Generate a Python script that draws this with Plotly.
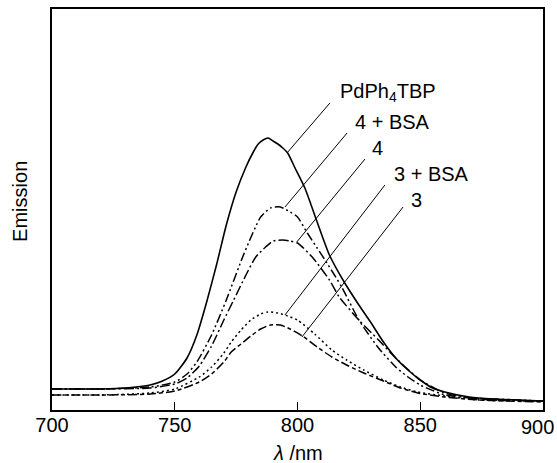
import plotly.graph_objects as go

# wavelength (nm) / emission (arb. units)
pd_x = [700,710,720,730,740,745,750,755,759,763,767,771,775,779,782,784,786,788,790,792,794,796,799,803,808,813,819,825,830,835,840,845,850,855,860,870,880,890,900]
pd_y = [21,21,21,22,25,29,36,52,75,108,145,185,218,243,258,266,270,272,269,266,262,257,242,222,188,155,128,105,87,68,52,40,30,22,18,13,11,10,9]

bsa4_x = [700,720,740,750,755,759,765,771,778,785,789,793,797,800,804,808,812,818,825,833,840,845,850,860,870,880,900]
bsa4_y = [21,21,23,28,36,48,75,110,155,193,202,203,198,193,177,162,147,123,90,62,43,33,25,15,12,11,9]

c4_x = [700,720,740,750,755,760,765,770,774,779,783,787,790,794,797,800,806,813,817,825,833,840,850,860,870,880,900]
c4_y = [21,21,22,26,32,44,64,90,110,135,153,163,169,170,169,167,153,130,113,90,70,52,30,17,12,10,9]

bsa3_x = [700,720,740,750,760,765,770,773,777,781,785,788,792,796,800,807,814,820,827,835,842,849,860,874,900]
bsa3_y = [15,15,17,21,33,43,57,68,80,90,96,98,97,94,90,76,60,50,40,30,23,18,14,10,9]

c3_x = [700,720,740,750,760,765,770,773,777,781,785,789,793,797,802,808,814,820,827,835,842,849,860,874,900]
c3_y = [15,15,16,19,28,36,48,58,66,74,81,85,85,81,74,63,53,45,37,29,22,17,13,10,8]

series = [
    ("PdPh<sub>4</sub>TBP", pd_x, pd_y, "solid", 1.6),
    ("4 + BSA", bsa4_x, bsa4_y, "9px,3px,2px,3px,2px,3px", 1.5),
    ("4", c4_x, c4_y, "10px,3px,2px,3px", 1.5),
    ("3 + BSA", bsa3_x, bsa3_y, "2px,3px", 1.5),
    ("3", c3_x, c3_y, "9px,3px,4px,3px", 1.5),
]

# label text position (nm, y) and leader line (from, to)
label_pos = [(816.5, 318), (822.6, 288), (829.5, 262), (838.5, 236), (845.5, 210)]
leader_from = [(813.2, 307), (820.2, 277), (827.5, 251), (835.6, 225), (843.0, 203)]
leader_to = [(795.7, 257), (794.9, 203), (799.7, 168), (794.9, 95), (801.8, 73)]

x_ticks = [700, 750, 800, 850, 900]
x_ticklabels = ["700", "750", "800", "850", "900"]

fig = go.Figure()
for name, xs, ys, dash, w in series:
    fig.add_trace(go.Scatter(x=xs, y=ys, mode="lines", name=name,
                             line=dict(color="black", width=w, dash=dash, shape="spline", smoothing=0.6),
                             showlegend=False))

font = dict(family="Liberation Sans, Arial, sans-serif", size=20, color="black")
shapes = []
annotations = []
for (name, *_), (tx, ty), (fx, fy), (ex, ey) in zip(series, label_pos, leader_from, leader_to):
    shapes.append(dict(type="line", xref="x", yref="y", x0=fx, y0=fy, x1=ex, y1=ey,
                       line=dict(color="black", width=1)))
    annotations.append(dict(x=tx, y=ty, xref="x", yref="y", text=name, showarrow=False,
                            xanchor="left", yanchor="middle", font=font))

# last tick label drawn as an annotation so it can overhang the right edge without shrinking the plot
annotations.append(dict(x=x_ticks[-1], y=0, xref="x", yref="paper", text=x_ticklabels[-1],
                        showarrow=False, xanchor="right", yanchor="middle", xshift=13, yshift=-17,
                        font=font))
annotations.append(dict(x=0, y=0.519, xref="paper", yref="paper", text="Emission", textangle=-90,
                        showarrow=False, xanchor="center", yanchor="middle", xshift=-32, font=font))
annotations.append(dict(x=0.501, y=0, xref="paper", yref="paper", text="<i>λ</i> /nm",
                        showarrow=False, xanchor="center", yanchor="middle", yshift=-43, font=font))

fig.update_layout(
    width=557, height=463,
    margin=dict(l=52, r=14, t=9, b=53),
    paper_bgcolor="white", plot_bgcolor="white",
    shapes=shapes, annotations=annotations,
    font=font,
    xaxis=dict(range=[700, 900], tickvals=x_ticks[:-1], ticktext=x_ticklabels[:-1],
               ticks="inside", ticklen=8, tickcolor="black", tickwidth=1,
               ticklabelstandoff=-4, automargin=False,
               showline=True, linecolor="black", linewidth=1.5, mirror=True,
               showgrid=False, zeroline=False, tickfont=font),
    yaxis=dict(range=[0, 401], showticklabels=False, ticks="", automargin=False,
               showline=True, linecolor="black", linewidth=1.5, mirror=True,
               showgrid=False, zeroline=False),
)

fig.write_html("out.html")
